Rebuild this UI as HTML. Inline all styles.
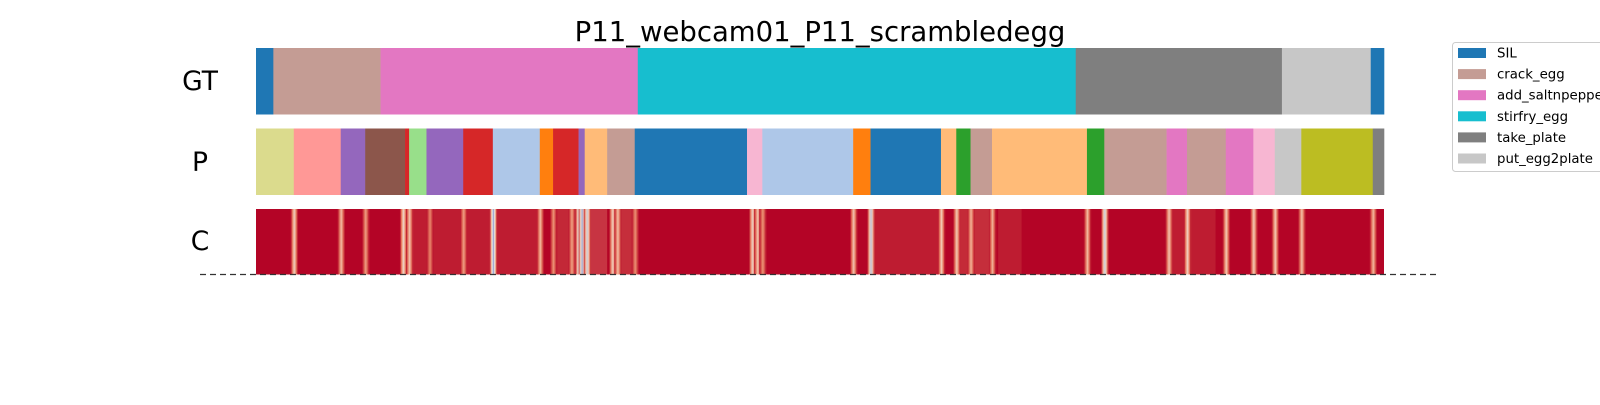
<!DOCTYPE html>
<html><head><meta charset="utf-8"><style>
body{margin:0;background:#fff;width:1600px;height:400px;overflow:hidden}
svg text{font-family:"DejaVu Sans","Liberation Sans",sans-serif}
</style></head><body>
<svg id="chart" width="1600" height="400">
<text x="820" y="41" font-size="27.5" text-anchor="middle">P11_webcam01_P11_scrambledegg</text>
<text x="200" y="90" font-size="26.5" text-anchor="middle">GT</text>
<text x="200" y="171" font-size="26.5" text-anchor="middle">P</text>
<text x="200" y="250" font-size="26.5" text-anchor="middle">C</text>
<g id="gt"></g>
<g id="pr"></g>
<g id="cf"></g>
<line x1="200" y1="274.5" x2="1440" y2="274.5" stroke="#333" stroke-dasharray="6,4" stroke-width="1.2"/>
<g id="legend"></g>
</svg>
<script>
const totalFrames = 1105;
const gtStarts = [0,17,122,374,803,1005,1092];
const gtColors = ["#1f77b4","#c49c94","#e377c2","#17becf","#7f7f7f","#c7c7c7","#1f77b4"];
const pStarts = [0,37,83,107,146,150,167,203,232,278,291,316,322,344,371,481,496,585,602,671,686,700,721,814,831,892,912,950,977,998,1024,1094];
const pColors = ["#dbdb8d","#ff9896","#9467bd","#8c564b","#d62728","#98df8a","#9467bd","#d62728","#aec7e8","#ff7f0e","#d62728","#9467bd","#ffbb78","#c49c94","#1f77b4","#f7b6d2","#aec7e8","#ff7f0e","#1f77b4","#ffbb78","#2ca02c","#c49c94","#ffbb78","#2ca02c","#c49c94","#e377c2","#c49c94","#e377c2","#f7b6d2","#c7c7c7","#bcbd22","#7f7f7f"];
const dipFrames = [37,83,107,144,150,170,203,232,278,291,309,316,319,324,349,354,371,486,491,496,585,602,671,686,700,721,814,831,894,912,950,977,998,1024,1094];
const dipValues = [0.62,0.68,0.75,0.6,0.65,0.8,0.75,0.3,0.7,0.78,0.75,0.35,0.3,0.45,0.62,0.68,0.78,0.6,0.65,0.78,0.65,0.4,0.65,0.65,0.7,0.72,0.7,0.45,0.65,0.62,0.65,0.65,0.65,0.68,0.7];
const shadeStarts = [150,291,316,354,602,686,700,727,894];
const shadeEnds = [278,316,344,371,671,700,721,750,940];
const shadeValues = [0.9,0.85,0.78,0.82,0.9,0.84,0.82,0.9,0.9];
const legendLabels = ["SIL","crack_egg","add_saltnpepper","stirfry_egg","take_plate","put_egg2plate"];
const legendColors = ["#1f77b4","#c49c94","#e377c2","#17becf","#7f7f7f","#c7c7c7"];

const X0=256, X1=1384;
const xs = f => X0 + f*(X1-X0)/totalFrames;
const NS="http://www.w3.org/2000/svg";
function mk(tag, attrs, parent){const e=document.createElementNS(NS,tag);for(const k in attrs)e.setAttribute(k,attrs[k]);parent.appendChild(e);return e;}
function drawSegs(starts, colors, g, y, h, nm){
  starts.forEach((s,i)=>{
    const e=(i+1<starts.length)?starts[i+1]:totalFrames;
    const r=mk('rect',{x:xs(s),y:y,width:xs(e)-xs(s)+0.3,height:h,fill:colors[i]},g);
    
    
  });
}
drawSegs(gtStarts,gtColors,document.getElementById('gt'),48,66.5,'gt');
drawSegs(pStarts,pColors,document.getElementById('pr'),128.5,66.5,'prediction');
function cw(v){
  const lo=[59,76,192],mid=[221,221,221];
  if(v>=0.5){
    const t=(v-0.5)/0.5;
    const w=[[221,221,221],[244,196,173],[229,120,94],[180,4,38]];
    const p=t*3, k=Math.min(2,Math.floor(p)), u=p-k;
    return 'rgb('+w[k].map((c,i)=>Math.round(c+(w[k+1][i]-c)*u)).join(',')+')';
  }
  const t=v/0.5;
  return 'rgb('+lo.map((c,i)=>Math.round(c+(mid[i]-c)*t)).join(',')+')';
}
const cg=document.getElementById('cf');
const CY=209, CH=65.5;
const base=mk('rect',{x:X0,y:CY,width:X1-X0,height:CH,fill:cw(1.0)},cg);


shadeStarts.forEach((s,i)=>{
  const r=mk('rect',{x:xs(s),y:CY,width:xs(shadeEnds[i])-xs(s),height:CH,fill:cw(shadeValues[i]),opacity:0.35},cg);
  
  
});
dipFrames.forEach((f,i)=>{
  const v=dipValues[i];
  for(let k=-3;k<=3;k++){
    const vv=1-(1-v)*Math.max(0,1-Math.abs(k)/3.5);
    const r=mk('rect',{x:xs(f+k),y:CY,width:xs(1)-xs(0)+0.2,height:CH,fill:cw(vv)},cg);
    
    
  }
});
const lg=document.getElementById('legend');
const box=mk('rect',{x:1452.5,y:42.5,width:200,height:129,rx:3,fill:'#fff',stroke:'#ccc'},lg);


legendLabels.forEach((l,i)=>{
  const y=48+i*21.1;
  const p=mk('rect',{x:1458,y:y,width:28,height:10,fill:legendColors[i]},lg);
  
  
  const t=mk('text',{x:1497,y:y+9.5,'font-size':13.3,fill:'#000'},lg);
  t.textContent=l;
  
  
});
</script>
</body></html>
